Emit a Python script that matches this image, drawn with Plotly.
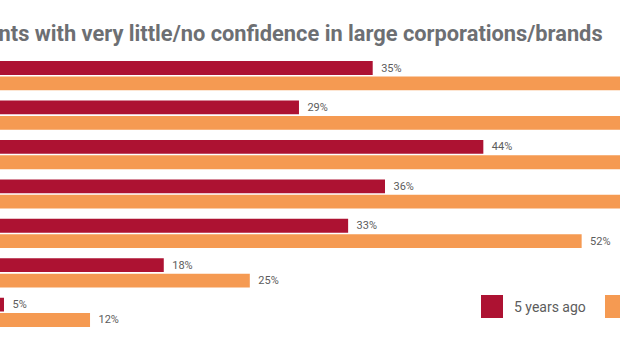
import plotly.graph_objects as go

# ---- data ----
categories = ["Category 1", "Category 2", "Category 3", "Category 4",
              "Category 5", "Category 6", "Category 7"]
five_years_ago = [35, 29, 44, 36, 33, 18, 5]
today = [62, 57, 65, 60, 52, 25, 12]
series_names = ["5 years ago", "Today"]
title_text = "Percentage of respondents with very little/no confidence in large corporations/brands"

RED = "#ad1232"
ORANGE = "#f59a52"
GRAY = "#5c5c5c"

W, H = 620, 350
M_T, M_B = 56, 18
plot_h = H - M_T - M_B
X_RANGE = [4.675, 55.12]


def py(p):
    """pixel y -> paper y"""
    return (H - M_B - p) / plot_h


fig = go.Figure()
for name, vals, col in [(series_names[0], five_years_ago, RED),
                        (series_names[1], today, ORANGE)]:
    # labels of bars running past the visible range are clipped away
    labels = [f"\u00a0\u00a0{v}%" if v < X_RANGE[1] - 3 else "" for v in vals]
    fig.add_trace(go.Bar(
        x=vals, y=categories, orientation="h", name=name,
        marker=dict(color=col, line=dict(width=0)),
        text=labels, textposition="outside",
        textfont=dict(size=11, color=GRAY, family="Roboto"),
        constraintext="none", cliponaxis=True, showlegend=False,
    ))

fig.update_layout(
    width=W, height=H,
    margin=dict(l=0, r=0, t=M_T, b=M_B, pad=0),
    paper_bgcolor="white", plot_bgcolor="white",
    barmode="group", bargap=0.22, bargroupgap=0.1,
    font=dict(family="Roboto", color=GRAY),
    xaxis=dict(range=X_RANGE, visible=False, fixedrange=True),
    yaxis=dict(categoryorder="array", categoryarray=categories,
               range=[6.5, -0.5], visible=False),
)

# title (left part runs off the page, as in the reference)
fig.add_annotation(
    xref="paper", yref="paper", x=605 / W, y=py(33),
    xanchor="right", yanchor="middle", showarrow=False,
    text=f"<b>{title_text}</b>",
    font=dict(size=21.8, color="#6d6f73", family="Roboto"),
)

# legend (custom squares)
legend_items = [(481, RED, series_names[0]), (605, ORANGE, series_names[1])]
for x0, col, label in legend_items:
    fig.add_shape(type="rect", xref="paper", yref="paper",
                  x0=x0 / W, x1=(x0 + 22) / W, y0=py(318), y1=py(295),
                  fillcolor=col, line=dict(width=0))
    fig.add_annotation(xref="paper", yref="paper", x=(x0 + 31) / W, y=py(307),
                       xanchor="left", yanchor="middle", showarrow=False,
                       text=label, font=dict(size=14, color=GRAY, family="Roboto"))

fig.write_html("out.html")
